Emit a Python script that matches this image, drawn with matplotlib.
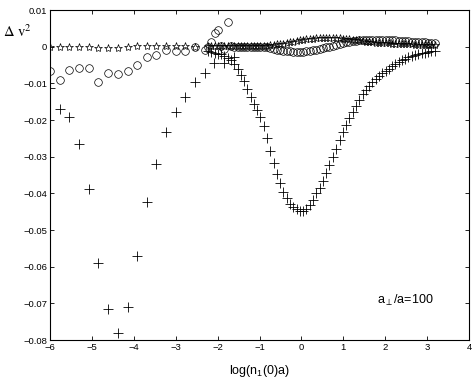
import numpy as np
import matplotlib
matplotlib.use('Agg')
import matplotlib.pyplot as plt

matplotlib.rc('font', family='Liberation Sans', size=7)
matplotlib.rc('mathtext', fontset='custom', rm='Liberation Sans',
              it='Liberation Sans:italic', bf='Liberation Sans:bold')
matplotlib.rc('axes', linewidth=0.8)

# sparse part of the three curves (left side, coarse grid)
x_sparse = [-6.00, -5.77, -5.54, -5.31, -5.08, -4.85, -4.62, -4.38, -4.15, -3.92,
            -3.69, -3.46, -3.23, -3.00, -2.77, -2.54, -2.31, -2.08, -1.85, -1.62]
plus_sparse = [-0.0113, -0.0170, -0.0193, -0.0265, -0.0389, -0.0590, -0.0716, -0.0780,
               -0.0709, -0.0570, -0.0424, -0.0321, -0.0234, -0.0179, -0.0138, -0.0095,
               -0.0071, -0.0045, -0.0045, -0.0027]
circ_sparse = [-0.0065, -0.0091, -0.0064, -0.0058, -0.0058, -0.0095, -0.0071, -0.0075,
               -0.0065, -0.0051, -0.0029, -0.0022, -0.0009, -0.0011, -0.0011, 0.0000,
               -0.0008]
star_sparse = [0.0000, 0.0000, -0.0001, -0.0001, -0.0002, -0.0003, -0.0003, -0.0003,
               -0.0002, 0.0001, 0.0002, 0.0002, 0.0002, 0.0001, 0.0001, 0.0000]

# dense part (fine grid)
x_dense = [-2.23, -2.15, -2.07, -1.99, -1.92, -1.84, -1.76, -1.68, -1.60, -1.52,
           -1.45, -1.37, -1.29, -1.21, -1.13, -1.05, -0.98, -0.90, -0.82, -0.74,
           -0.66, -0.58, -0.51, -0.43, -0.35, -0.27, -0.19, -0.11, -0.03, 0.04,
           0.12, 0.20, 0.28, 0.36, 0.44, 0.51, 0.59, 0.67, 0.75, 0.83,
           0.91, 0.99, 1.06, 1.14, 1.22, 1.30, 1.38, 1.46, 1.53, 1.61,
           1.69, 1.77, 1.85, 1.93, 2.01, 2.08, 2.16, 2.24, 2.32, 2.40,
           2.48, 2.55, 2.63, 2.71, 2.79, 2.87, 2.95, 3.02, 3.10, 3.18]
plus_dense = [-0.0013, -0.0015, -0.0017, -0.0019, -0.0021, -0.0025, -0.0030, -0.0036, -0.0046, -0.0060,
              -0.0076, -0.0094, -0.0115, -0.0136, -0.0156, -0.0174, -0.0192, -0.0216, -0.0250, -0.0285,
              -0.0318, -0.0348, -0.0372, -0.0395, -0.0413, -0.0428, -0.0438, -0.0444, -0.0447, -0.0447,
              -0.0442, -0.0432, -0.0418, -0.0400, -0.0385, -0.0366, -0.0345, -0.0323, -0.0301, -0.0278,
              -0.0255, -0.0233, -0.0213, -0.0194, -0.0178, -0.0162, -0.0145, -0.0130, -0.0118, -0.0107,
              -0.0097, -0.0089, -0.0081, -0.0073, -0.0066, -0.0060, -0.0052, -0.0046, -0.0041, -0.0037,
              -0.0033, -0.0029, -0.0026, -0.0023, -0.0020, -0.0018, -0.0016, -0.0014, -0.0012, -0.0011]
circ_dense = [0.0000, 0.0013, 0.0036, 0.0045, 0.0001, -0.0005, 0.0067, 0.0001, 0.0000, 0.0000,
              0.0000, -0.0001, -0.0001, -0.0001, -0.0001, -0.0001, -0.0001, -0.0001, -0.0002, -0.0004,
              -0.0006, -0.0008, -0.0010, -0.0011, -0.0012, -0.0013, -0.0014, -0.0014, -0.0014, -0.0014,
              -0.0013, -0.0012, -0.0010, -0.0008, -0.0006, -0.0004, -0.0002, 0.0000, 0.0003, 0.0005,
              0.0008, 0.0010, 0.0012, 0.0014, 0.0015, 0.0016, 0.0017, 0.0018, 0.0018, 0.0018,
              0.0018, 0.0018, 0.0018, 0.0018, 0.0018, 0.0018, 0.0017, 0.0017, 0.0016, 0.0016,
              0.0015, 0.0015, 0.0014, 0.0014, 0.0013, 0.0012, 0.0012, 0.0011, 0.0011, 0.0010]
star_dense = [0.0002, 0.0002, 0.0002, 0.0002, 0.0002, 0.0002, 0.0002, 0.0002, 0.0002, 0.0002,
              0.0002, 0.0002, 0.0002, 0.0002, 0.0002, 0.0002, 0.0002, 0.0002, 0.0003, 0.0004,
              0.0005, 0.0006, 0.0007, 0.0008, 0.0010, 0.0012, 0.0013, 0.0015, 0.0017, 0.0019,
              0.0020, 0.0021, 0.0022, 0.0023, 0.0024, 0.0025, 0.0025, 0.0025, 0.0024, 0.0024,
              0.0023, 0.0022, 0.0021, 0.0020, 0.0019, 0.0018, 0.0017, 0.0015, 0.0014, 0.0013,
              0.0012, 0.0011, 0.0010, 0.0010, 0.0009, 0.0009, 0.0008, 0.0008, 0.0007, 0.0007,
              0.0006, 0.0006, 0.0006, 0.0005, 0.0005, 0.0005, 0.0004, 0.0004, 0.0004, 0.0004]

xticks = [-6, -5, -4, -3, -2, -1, 0, 1, 2, 3, 4]
yticks = [-0.08, -0.07, -0.06, -0.05, -0.04, -0.03, -0.02, -0.01, 0, 0.01]
yticklabels = ['\u22120.08', '\u22120.07', '\u22120.06', '\u22120.05', '\u22120.04',
               '\u22120.03', '\u22120.02', '\u22120.01', '0', '0.01']

fig = plt.figure(figsize=(4.76, 3.82), dpi=100)
ax = fig.add_axes([50/476, 42/382, 419/476, 330/382])

ax.plot(x_sparse[:len(star_sparse)], star_sparse, linestyle='none', marker='*',
        mfc='none', mec='k', mew=0.5, ms=6)
ax.plot(x_dense, star_dense, linestyle='none', marker='*',
        mfc='none', mec='k', mew=0.5, ms=6)
ax.plot(x_sparse[:len(circ_sparse)], circ_sparse, linestyle='none', marker='o',
        mfc='none', mec='k', mew=0.5, ms=5.5)
ax.plot(x_dense, circ_dense, linestyle='none', marker='o',
        mfc='none', mec='k', mew=0.5, ms=5.5)
ax.plot(x_sparse, plus_sparse, linestyle='none', marker='+',
        color='k', mew=0.6, ms=6.5)
ax.plot(x_dense, plus_dense, linestyle='none', marker='+',
        color='k', mew=0.6, ms=6.5)

ax.set_xlim(-6, 4)
ax.set_ylim(-0.08, 0.01)
ax.set_xticks(xticks)
ax.set_xticklabels(['\u2212%d' % abs(t) if t < 0 else '%d' % t for t in xticks])
ax.set_yticks(yticks)
ax.set_yticklabels(yticklabels)
ax.tick_params(direction='in', length=3, width=0.6, top=True, right=True,
               labelsize=6.8, pad=2)

ax.set_xlabel('log(n$_1$(0)a)', fontsize=9, labelpad=8)
fig.text(3/476, 1 - 37/382, r'$\Delta\ \mathrm{v}^2$', fontsize=10.5,
         math_fontfamily='stix', va='baseline')
ax.text(1.8, -0.0693, r'a$_\perp$/a=100', fontsize=9, va='center')

plt.savefig('out.png', dpi=100)
